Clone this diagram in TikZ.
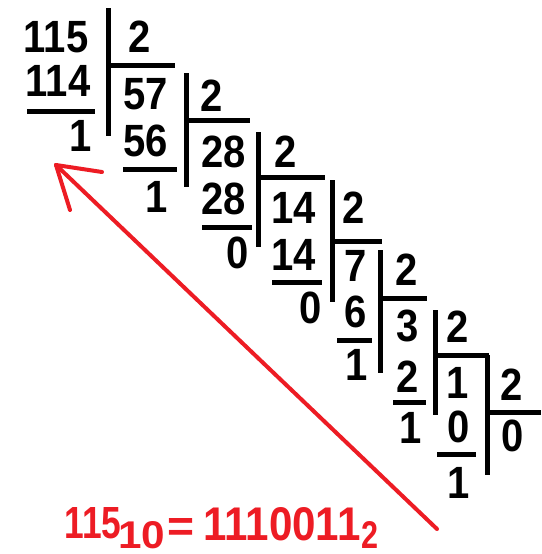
\documentclass[tikz,border=0pt]{standalone}
\usepackage{fontspec}
\setmainfont{Liberation Sans}
\usepackage{graphicx}
\newcommand\dg[1]{\scalebox{1}[1.13]{#1}}
\definecolor{pred}{HTML}{ED1C24}
\begin{document}
\begin{tikzpicture}[x=1pt,y=-1pt,
  num/.style={inner sep=0pt, anchor=base, font=\fontsize{40}{40}\selectfont\bfseries},
  bar/.style={line width=5pt},
  rnum/.style={inner sep=0pt, anchor=base, text=pred, font=\fontsize{40}{40}\selectfont\bfseries},
  rline/.style={pred, line width=4pt, line cap=round, line join=round}]
\useasboundingbox[fill=white] (0,0) rectangle (541,554);
% column 1
\node[num] (a1) at (56,52) {\dg{115}};
\node[num] (d1) at (140,52) {\dg{2}};
\node[num] (s1) at (58,96) {\dg{114}};
\node[num] (r1) at (81,151) {\dg{1}};
% column 2
\node[num] (a2) at (146,109) {\dg{57}};
\node[num] (d2) at (212,111) {\dg{2}};
\node[num] (s2) at (146,156) {\dg{56}};
\node[num] (r2) at (157,212) {\dg{1}};
% column 3
\node[num] (a3) at (224,167) {\dg{28}};
\node[num] (d3) at (286,167) {\dg{2}};
\node[num] (s3) at (224,214) {\dg{28}};
\node[num] (r3) at (238,268) {\dg{0}};
% column 4
\node[num] (a4) at (294,223) {\dg{14}};
\node[num] (d4) at (354,223) {\dg{2}};
\node[num] (s4) at (294,270) {\dg{14}};
\node[num] (r4) at (311,323) {\dg{0}};
% column 5
\node[num] (a5) at (356,281) {\dg{7}};
\node[num] (d5) at (407,285) {\dg{2}};
\node[num] (s5) at (356,327) {\dg{6}};
\node[num] (r5) at (357,380) {\dg{1}};
% column 6
\node[num] (a6) at (408,341) {\dg{3}};
\node[num] (d6) at (458,342) {\dg{2}};
\node[num] (s6) at (408,392) {\dg{2}};
\node[num] (r6) at (411,443) {\dg{1}};
% column 7
\node[num] (a7) at (458,398) {\dg{1}};
\node[num] (d7) at (512,400) {\dg{2}};
\node[num] (s7) at (459,442) {\dg{0}};
\node[num] (r7) at (459,498) {\dg{1}};
\node[num] (q7) at (513,451) {\dg{0}};
% division bars
\draw[bar] (108,8) -- (108,136);   \draw[bar] (108,65) -- (175,65);
\draw[bar] (186,73) -- (186,187);  \draw[bar] (186,120) -- (250,120);
\draw[bar] (258,132) -- (258,247); \draw[bar] (258,177) -- (325,177);
\draw[bar] (332,180) -- (332,302); \draw[bar] (332,241) -- (382,241);
\draw[bar] (380,250) -- (380,373); \draw[bar] (380,298) -- (427,298);
\draw[bar] (435,310) -- (435,415); \draw[bar] (435,355) -- (489,355);
\draw[bar] (487,355) -- (487,475); \draw[bar] (487,412) -- (541,412);
% underlines
\draw[bar] (27,111) -- (95,111);
\draw[bar] (123,169) -- (177,169);
\draw[bar] (202,227) -- (252,227);
\draw[bar] (272,282) -- (322,282);
\draw[bar] (337,340) -- (372,340);
\draw[bar] (393,402) -- (426,402);
\draw[bar] (437,454) -- (476,454);
% red arrow
\coordinate (tail) at (437,529);
\coordinate (tip) at (56,165);
\coordinate (hr) at (102,172);
\coordinate (hd) at (70,210);
\draw[rline] (tail) -- (tip);
\draw[rline] (tip) -- (hr);
\draw[rline] (tip) -- (hd);
% result
\node[rnum] (t115) at (93,538) {\resizebox{57pt}{31pt}{115}};
\node[rnum] (t10) at (142,548) {\resizebox{47pt}{27pt}{10}};
\node[rnum] (teq) at (181,541) {\resizebox{27pt}{23pt}{=}};
\node[rnum] (tbin) at (282,540) {\resizebox{157pt}{33pt}{1110011}};
\node[rnum] (t2) at (369.5,548) {\resizebox{17pt}{27pt}{2}};
\end{tikzpicture}
\end{document}
